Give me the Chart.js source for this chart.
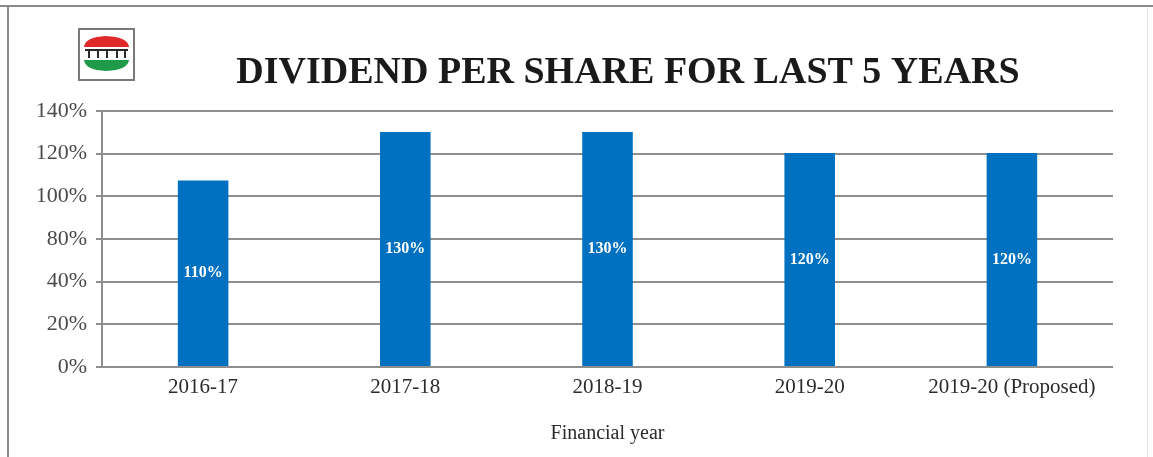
<!DOCTYPE html>
<html>
<head>
<meta charset="utf-8">
<script src="https://cdn.jsdelivr.net/npm/chart.js@4/dist/chart.umd.min.js"></script>
<style>
    html, body { margin: 0; padding: 0; background: #fff; }
    #wrap { width: 1153px; height: 457px; }
</style>
</head>
<body>
<div id="wrap"><canvas id="myChartDividend" width="1153" height="457"></canvas></div>
<script>
var years = ['2016-17', '2017-18', '2018-19', '2019-20', '2019-20 (Proposed)'];
// bar heights as drawn against the axis (0..140 scale)
var barHeights = [102, 128.5, 128.5, 117, 117];
// the printed labels inside the bars
var barLabels = ['110%', '130%', '130%', '120%', '120%'];
// axis labels as printed (note: no 60%)
var yTickLabels = ['0%', '20%', '40%', '80%', '100%', '120%', '140%'];

var titleText = 'DIVIDEND PER SHARE FOR LAST 5 YEARS';
var serif = '"Liberation Serif", "Times New Roman", serif';

// frame, logo and title
var decorPlugin = {
    id: 'decor',
    beforeDraw: function (chart) {
        var ctx = chart.ctx;
        ctx.save();
        ctx.fillStyle = '#fff';
        ctx.fillRect(0, 0, chart.width, chart.height);

        ctx.strokeStyle = '#8a8a8a';
        ctx.lineWidth = 2;
        ctx.beginPath();
        ctx.moveTo(0, 6);
        ctx.lineTo(chart.width, 6);
        ctx.moveTo(8, 6);
        ctx.lineTo(8, chart.height);
        ctx.stroke();
        ctx.strokeStyle = '#e2e2e2';
        ctx.lineWidth = 1;
        ctx.beginPath();
        ctx.moveTo(1147.5, 8);
        ctx.lineTo(1147.5, chart.height);
        ctx.stroke();

        // logo
        ctx.strokeStyle = '#7a7a7a';
        ctx.lineWidth = 2;
        ctx.strokeRect(79, 29, 55, 51);
        ctx.fillStyle = '#e02a2a';
        ctx.beginPath();
        ctx.moveTo(84, 47);
        ctx.quadraticCurveTo(85, 37, 106, 36);
        ctx.quadraticCurveTo(128, 37, 129, 47);
        ctx.closePath();
        ctx.fill();
        ctx.fillStyle = '#2a2a2a';
        ctx.fillRect(85, 49, 43, 2);
        ctx.fillRect(88, 51, 2, 7);
        ctx.fillRect(97, 51, 2, 7);
        ctx.fillRect(106, 51, 2, 7);
        ctx.fillRect(116, 51, 2, 7);
        ctx.fillRect(124, 51, 2, 7);
        ctx.fillStyle = '#1f9a48';
        ctx.beginPath();
        ctx.moveTo(84, 60);
        ctx.lineTo(129, 60);
        ctx.quadraticCurveTo(128, 70, 106, 71);
        ctx.quadraticCurveTo(85, 70, 84, 60);
        ctx.closePath();
        ctx.fill();

        ctx.fillStyle = '#1a1a1a';
        ctx.font = 'bold 38px ' + serif;
        ctx.textAlign = 'center';
        ctx.textBaseline = 'alphabetic';
        ctx.fillText(titleText, 628, 83);
        ctx.restore();
    },
    afterDatasetsDraw: function (chart) {
        var ctx = chart.ctx;
        var meta = chart.getDatasetMeta(0);
        ctx.save();
        ctx.fillStyle = '#ffffff';
        ctx.font = 'bold 16px ' + serif;
        ctx.textAlign = 'center';
        ctx.textBaseline = 'middle';
        meta.data.forEach(function (bar, i) {
            ctx.fillText(barLabels[i], bar.x, (bar.y + bar.base) / 2);
        });
        ctx.restore();
    }
};

var ctx = document.getElementById('myChartDividend').getContext('2d');

new Chart(ctx, {
    type: 'bar',
    data: {
        labels: years,
        datasets: [{
            label: 'Dividend',
            data: barHeights,
            backgroundColor: '#0070c0',
            borderWidth: 0,
            barPercentage: 0.25,
            categoryPercentage: 1
        }]
    },
    options: {
        responsive: false,
        animation: false,
        events: [],
        layout: {
            padding: { left: 0, right: 40, top: 111, bottom: 0 }
        },
        scales: {
            x: {
                type: 'category',
                grid: { display: false, drawTicks: false },
                border: { display: false },
                ticks: {
                    color: '#2b2b2b',
                    font: { family: serif, size: 21 },
                    padding: 8,
                    maxRotation: 0,
                    autoSkip: false
                },
                title: {
                    display: true,
                    text: 'Financial year',
                    color: '#2b2b2b',
                    font: { family: serif, size: 20 },
                    padding: { top: 3, bottom: 11 }
                },
                afterFit: function (scale) { scale.height = 90; }
            },
            y: {
                min: 0,
                max: 140,
                ticks: {
                    count: 7,
                    color: '#4a4a4a',
                    font: { family: serif, size: 22 },
                    padding: 9,
                    callback: function (v, i) { return yTickLabels[i]; }
                },
                grid: { color: '#8e8e8e', lineWidth: 2, tickLength: 6 },
                border: { display: true, color: '#8e8e8e', width: 2 },
                afterFit: function (scale) { scale.width = 102; }
            }
        },
        plugins: {
            legend: { display: false },
            tooltip: { enabled: false },
            title: { display: false }
        }
    },
    plugins: [decorPlugin]
});
</script>
</body>
</html>
